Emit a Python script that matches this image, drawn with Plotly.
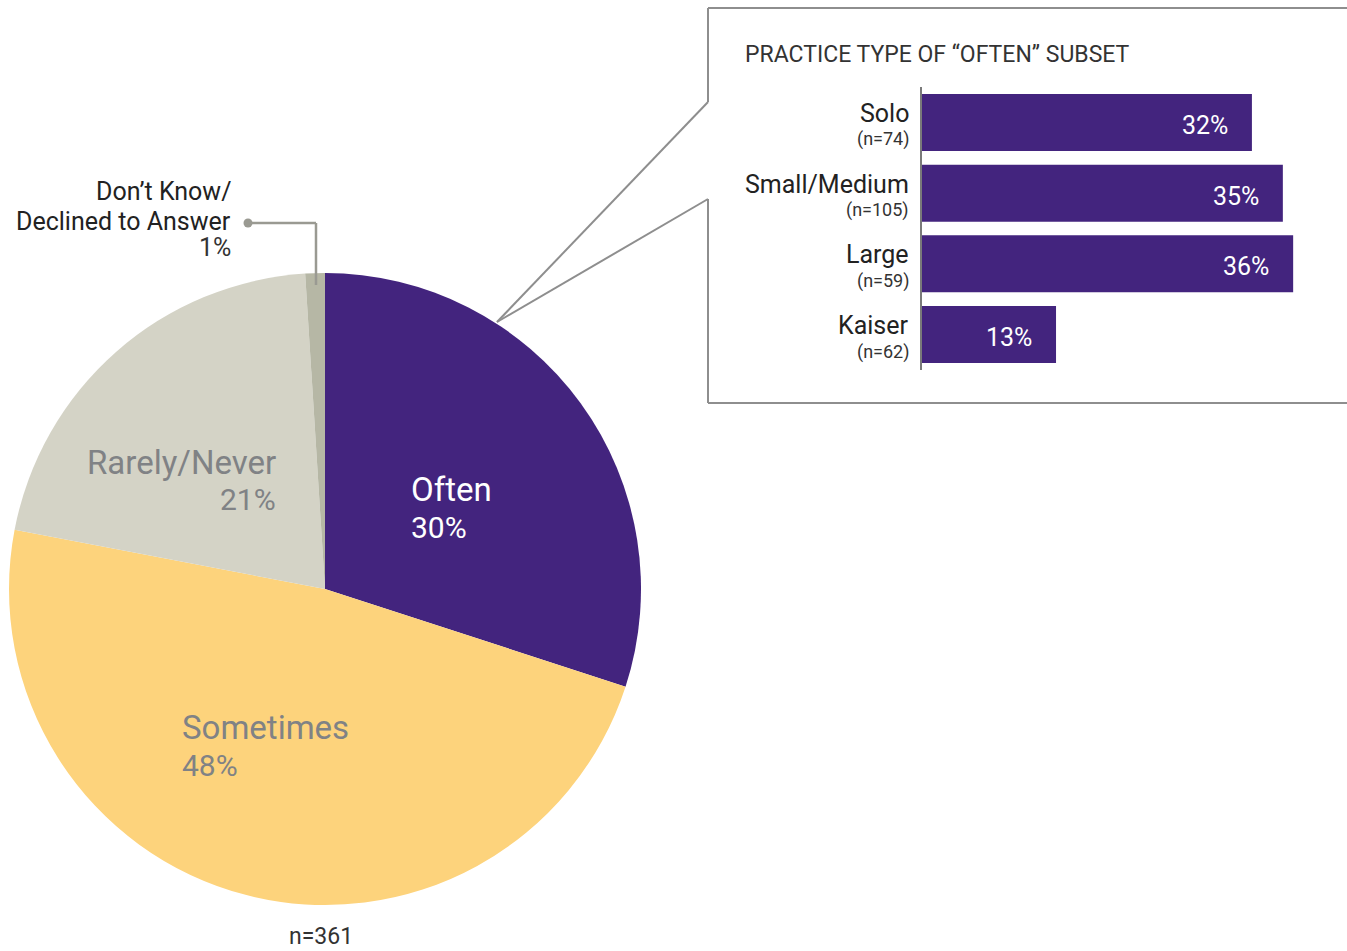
import plotly.graph_objects as go

W, H = 1347, 951

# pie data
pie_labels = ["Often", "Sometimes", "Rarely/Never", "Don\u2019t Know/<br>Declined to Answer"]
pie_values = [30, 48, 21, 1]
pie_colors = ["#43247e", "#fdd37c", "#d4d3c6", "#b6b7a5"]

# bar data (practice type of "often" subset)
bar_cats = ["Solo", "Small/Medium", "Large", "Kaiser"]
bar_n = [74, 105, 59, 62]
bar_values = [32, 35, 36, 13]

PURPLE = "#43247e"
GREY_TXT = "#808285"
LINE = "#8e8e8e"
FONT = "Roboto"


def px(x, y):
    return x / W, 1 - y / H


fig = go.Figure()

# pie: centre (325, 589), radius 316 px
cx, cy, r = 325, 589, 316
fig.add_trace(go.Pie(
    labels=pie_labels,
    values=pie_values,
    sort=False,
    direction="clockwise",
    rotation=0,
    marker=dict(colors=pie_colors, line=dict(width=0)),
    textinfo="none",
    hoverinfo="label+percent",
    showlegend=False,
    domain=dict(x=[(cx - r) / W, (cx + r) / W], y=[1 - (cy + r) / H, 1 - (cy - r) / H]),
))

# bar chart
fig.add_trace(go.Bar(
    x=bar_values,
    y=bar_cats,
    orientation="h",
    marker=dict(color=PURPLE, line=dict(width=0)),
    width=0.806,
    showlegend=False,
    hovertemplate="%{y}: %{x}%<extra></extra>",
    xaxis="x",
    yaxis="y",
))

for c, n, v in zip(bar_cats, bar_n, bar_values):
    # value inside bar end
    fig.add_annotation(x=v, y=c, xref="x", yref="y", text=f"{v}%", showarrow=False,
                       xanchor="right", xshift=-22, yshift=-3,
                       font=dict(family=FONT, size=25, color="white"))
    # category label + n, right aligned against the axis
    fig.add_annotation(x=0, y=c, xref="x", yref="y", text=c, showarrow=False,
                       xanchor="right", yanchor="middle", xshift=-11, yshift=9,
                       font=dict(family=FONT, size=25, color="#222"))
    fig.add_annotation(x=0, y=c, xref="x", yref="y", text=f"(n={n})", showarrow=False,
                       xanchor="right", yanchor="middle", xshift=-11, yshift=-17,
                       font=dict(family=FONT, size=18, color="#333"))


# pie labels
def label(x, y, text, size, color, anchor="left"):
    ax, ay = px(x, y)
    fig.add_annotation(x=ax, y=ay, xref="paper", yref="paper", text=text, showarrow=False,
                       xanchor=anchor, yanchor="middle", align=anchor,
                       font=dict(family=FONT, size=size, color=color))


label(409, 489, "Often", 33, "white")
label(409, 527, f"{pie_values[0]}%", 30, "white")
label(180, 727, "Sometimes", 33, GREY_TXT)
label(180, 765, f"{pie_values[1]}%", 30, GREY_TXT)
label(278, 462, "Rarely/Never", 33, GREY_TXT, "right")
label(278, 500, f"{pie_values[2]}%", 30, GREY_TXT, "right")
label(233, 192, "Don\u2019t Know/", 25, "#222", "right")
label(233, 221, "Declined to Answer", 25, "#222", "right")
label(233, 248, f"{pie_values[3]}%", 25, "#333", "right")
label(321, 936, "n=361", 23, "#333", "center")
label(743, 55, "PRACTICE TYPE OF \u201cOFTEN\u201d SUBSET", 23, "#333")

shapes = []


def seg(x0, y0, x1, y1, color=LINE, width=2):
    a, b = px(x0, y0)
    c, d = px(x1, y1)
    shapes.append(dict(type="line", xref="paper", yref="paper", x0=a, y0=b, x1=c, y1=d,
                       line=dict(color=color, width=width)))


# callout box
seg(708, 8, 1350, 8)
seg(708, 8, 708, 102)
seg(708, 199, 708, 403)
seg(708, 403, 1350, 403)
seg(497, 322, 708, 102)
seg(497, 322, 708, 199)
# leader for don't know
seg(248, 223, 316, 223, "#9a9a92", 2.5)
seg(316, 223, 316, 285, "#9a9a92", 2.5)
a, b = px(248, 223)
shapes.append(dict(type="circle", xref="paper", yref="paper",
                   x0=a - 4.5 / W, x1=a + 4.5 / W, y0=b - 4.5 / H, y1=b + 4.5 / H,
                   fillcolor="#9a9a92", line=dict(width=0)))

fig.update_layout(
    width=W, height=H,
    margin=dict(l=0, r=0, t=0, b=0),
    paper_bgcolor="white",
    plot_bgcolor="white",
    font=dict(family=FONT, color="#222"),
    shapes=shapes,
    xaxis=dict(domain=[922 / W, 1334.4 / W], range=[0, 40], visible=False, fixedrange=True),
    yaxis=dict(domain=[1 - 369.85 / H, 1 - 87.15 / H], range=[3.5, -0.5], anchor="x",
               showticklabels=False, showline=True, linecolor="#7a7a7a", linewidth=2,
               ticks="", showgrid=False, zeroline=False),
)

fig.write_html("out.html", config={"displayModeBar": False},
               post_script="document.body.style.margin='0';")
